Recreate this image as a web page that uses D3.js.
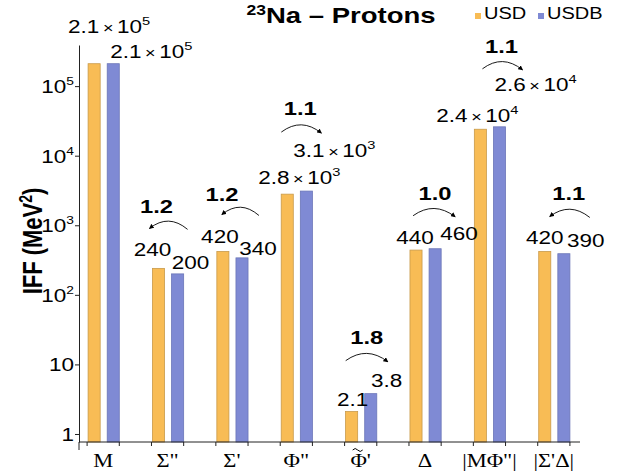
<!DOCTYPE html>
<html>
<head>
<meta charset="utf-8">
<script src="https://cdn.jsdelivr.net/npm/d3@7"></script>
<style>
  body { margin: 0; background: #fff; }
  text { font-family: "Liberation Sans", Arial, sans-serif; fill: #000; }
</style>
</head>
<body>
<div id="chart"></div>
<script>
// data
const categories = ["M", "\u03A3\"", "\u03A3'", "\u03A6\"", "\u03A6\u0303'", "\u0394", "|M\u03A6\"|", "|\u03A3'\u0394|"];
const seriesNames = ["USD", "USDB"];
const usd  = [2.1e5, 240, 420, 2.8e3, 2.1, 440, 2.4e4, 420];
const usdb = [2.1e5, 200, 340, 3.1e3, 3.8, 460, 2.6e4, 390];
const ratios = [null, "1.2", "1.2", "1.1", "1.8", "1.0", "1.1", "1.1"];
const yTicks = [1, 10, 1e2, 1e3, 1e4, 1e5];
const colors = ["#F8BC55", "#7F8AD4"];
const strokes = ["#C99A4A", "#6B76B8"];

// label placement (dx from bar center, dy from bar top) - hand tuned
const labelOffsets = [
  [[15, -31], [38, -6]],
  [[-6, -12], [13, -5]],
  [[-3, -8], [16, -3]],
  [[12, -10], [28, -34]],
  [[1, -6], [16, -7]],
  [[-1, -6], [24, -9]],
  [[-3, -7], [36, -36]],
  [[0, -7], [22, -7]]
];
// ratio arcs: left/right offset from group center, rise above tallest bar, label dx, label rise
const arcLayout = [
  null,
  [-18, 20, 40, -11, 55],
  [-10, 27, 37, -10, 50],
  [-15, 25, 59, 4, 76],
  [-15, 27, 33, 6, 50],
  [-12, 30, 33, 10, 49],
  [-7, 33, 58, 12, 74],
  [-4, 36, 35, 15, 51]
];

const width = 623;
const height = 475;
const SX = 1.25; // the picture is stretched sideways

const svg = d3.select("#chart")
    .append("svg")
    .attr("width", width)
    .attr("height", height);

svg.append("defs").append("marker")
    .attr("id", "arrow")
    .attr("viewBox", "0 0 6 6")
    .attr("refX", 5)
    .attr("refY", 3)
    .attr("markerWidth", 5)
    .attr("markerHeight", 5)
    .attr("markerUnits", "userSpaceOnUse")
    .attr("orient", "auto")
    .append("path")
    .attr("d", "M0,0 L6,3 L0,6 Z")
    .attr("fill", "#000");

const axisX = 79;
const axisY = 442;

let y = d3.scaleLog()
    .domain([0.767, 3.9e5])
    .range([axisY, 45]);

let x = d3.scaleBand()
    .domain(categories)
    .range([71, 586])
    .paddingInner(0.5)
    .paddingOuter(0.25);

let xSub = d3.scaleBand()
    .domain(seriesNames)
    .range([1, x.bandwidth()])
    .paddingInner(7 / 19);

let rows = categories.map((c, i) => ({cat: c, i: i, vals: [usd[i], usdb[i]]}));

let stretch = (px, py) => `translate(${px},${py}) scale(${SX},1)`;

// bars
let groups = svg.selectAll("g.group")
    .data(rows)
    .join("g")
    .attr("class", "group")
    .attr("transform", d => `translate(${x(d.cat)},0)`);

groups.selectAll("rect")
    .data(d => d.vals.map((v, k) => ({v: v, k: k, i: d.i})))
    .join("rect")
    .attr("x", d => xSub(seriesNames[d.k]))
    .attr("width", xSub.bandwidth())
    .attr("y", d => y(d.v))
    .attr("height", d => axisY - y(d.v))
    .attr("fill", d => colors[d.k])
    .attr("stroke", d => strokes[d.k])
    .attr("stroke-width", 0.8);

// value labels
let addValue = function(sel, v, size) {
    if (v >= 1000) {
        let e = Math.floor(Math.log10(v));
        let m = (v / Math.pow(10, e)).toFixed(1);
        sel.append("tspan").text(m);
        sel.append("tspan").style("font-size", (size * 0.8) + "px").text("\u2009\u00D7\u2009");
        sel.append("tspan").text("10");
        sel.append("tspan").attr("dy", -8).style("font-size", (size * 0.65) + "px").text(e);
    } else {
        sel.text(String(v));
    }
};

rows.forEach(d => {
    d.vals.forEach((v, k) => {
        let cx = x(d.cat) + xSub(seriesNames[k]) + xSub.bandwidth() / 2 + labelOffsets[d.i][k][0];
        let cy = y(v) + labelOffsets[d.i][k][1];
        let t = svg.append("text")
            .attr("class", "value")
            .attr("text-anchor", "middle")
            .attr("transform", stretch(cx, cy))
            .style("font-size", "18px");
        addValue(t, v, 18);
    });
});

// ratio arcs
rows.forEach(d => {
    let a = arcLayout[d.i];
    if (!a) return;
    let c = x(d.cat) + x.bandwidth() / 2;
    let top = y(d3.max(d.vals));
    let ay = top - a[2];
    let x0 = c + a[0], x1 = c + a[1];
    let mid = (x0 + x1) / 2;
    let pointsRight = d.vals[1] > d.vals[0];
    let path = pointsRight ?
        `M${x0},${ay} Q${mid},${ay - 15} ${x1},${ay + 1}` :
        `M${x1},${ay + 1} Q${mid},${ay - 15} ${x0},${ay}`;
    svg.append("path")
        .attr("d", path)
        .attr("fill", "none")
        .attr("stroke", "#000")
        .attr("stroke-width", 0.9)
        .attr("marker-end", "url(#arrow)");
    svg.append("text")
        .attr("text-anchor", "middle")
        .attr("transform", stretch(c + a[3], top - a[4]))
        .style("font-size", "19px")
        .style("font-weight", "bold")
        .text(ratios[d.i]);
});

// y axis
let yAxis = d3.axisLeft(y)
    .tickValues(yTicks)
    .tickSize(4)
    .tickSizeOuter(0)
    .tickFormat(() => "");

let yg = svg.append("g")
    .attr("class", "y-axis")
    .attr("transform", `translate(${axisX},0)`)
    .call(yAxis);
yg.selectAll("path, line").attr("stroke", "#222");
yg.append("line")
    .attr("x1", 0).attr("x2", 0)
    .attr("y1", axisY).attr("y2", axisY + 8)
    .attr("stroke", "#222");

yTicks.forEach(v => {
    let e = Math.round(Math.log10(v));
    let t = svg.append("text")
        .attr("text-anchor", "end")
        .attr("transform", stretch(axisX - 5, y(v) + 7))
        .style("font-size", "18px");
    if (e < 2) {
        t.text(String(v));
    } else {
        t.append("tspan").text("10");
        t.append("tspan").attr("dy", -8).style("font-size", "11px").text(e);
    }
});

// x axis
svg.append("line")
    .attr("x1", axisX).attr("x2", 580)
    .attr("y1", axisY).attr("y2", axisY)
    .attr("stroke", "#222");

rows.forEach(d => {
    let c = x(d.cat) + x.bandwidth() / 2;
    [x(d.cat), x(d.cat) + x.bandwidth()].forEach(tx => {
        svg.append("line")
            .attr("x1", tx).attr("x2", tx)
            .attr("y1", axisY).attr("y2", axisY + 4)
            .attr("stroke", "#222");
    });
    // a combining tilde renders badly, so draw it by hand
    let hasTilde = d.cat.includes("\u0303");
    let label = d.cat.replace("\u0303", "");
    svg.append("text")
        .attr("text-anchor", "middle")
        .attr("transform", stretch(c, 467))
        .style("font-family", "'Liberation Serif', 'Times New Roman', serif")
        .style("font-size", "18px")
        .text(label);
    if (hasTilde) {
        let tx = c - 3;
        svg.append("path")
            .attr("d", `M${tx - 5},${450} q2.5,-3 5,0 t5,0`)
            .attr("fill", "none")
            .attr("stroke", "#000")
            .attr("stroke-width", 1);
    }
});

// y axis title
let yt = svg.append("text")
    .attr("text-anchor", "middle")
    .attr("transform", `translate(42,241) scale(${SX},1) rotate(-90)`)
    .style("font-size", "22px")
    .style("font-weight", "bold");
yt.append("tspan").text("IFF (MeV");
yt.append("tspan").attr("dy", -8).style("font-size", "14px").text("2");
yt.append("tspan").attr("dy", 8).text(")");

// title
let title = svg.append("text")
    .attr("text-anchor", "middle")
    .attr("transform", stretch(341, 23))
    .style("font-size", "22px")
    .style("font-weight", "bold");
title.append("tspan").attr("dy", -8).style("font-size", "14px").text("23");
title.append("tspan").attr("dy", 8).text("Na \u2013 Protons");

// legend
let legendX = [475, 538];
seriesNames.forEach((s, k) => {
    svg.append("rect")
        .attr("x", legendX[k])
        .attr("y", 13)
        .attr("width", 6)
        .attr("height", 6)
        .attr("fill", colors[k]);
    svg.append("text")
        .attr("transform", stretch(legendX[k] + 9, 19))
        .style("font-size", "16px")
        .text(s);
});
</script>
</body>
</html>
